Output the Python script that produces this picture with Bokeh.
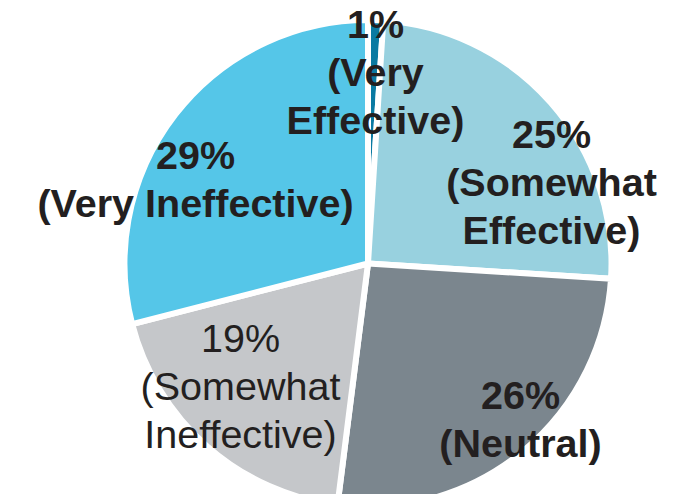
import math
from bokeh.plotting import figure
from bokeh.models import ColumnDataSource, Range1d
from bokeh.embed import file_html
from bokeh.resources import INLINE
from bokeh.core.properties import value

# ---- data ----
categories = ["Very Effective", "Somewhat Effective", "Neutral",
              "Somewhat Ineffective", "Very Ineffective"]
percents = [1, 25, 26, 19, 29]
colors = ["#0a7aa2", "#98d1df", "#7b868e", "#c5c7ca", "#55c6e8"]
label_lines = [["1%", "(Very", "Effective)"],
               ["25%", "(Somewhat", "Effective)"],
               ["26%", "(Neutral)"],
               ["19%", "(Somewhat", "Ineffective)"],
               ["29%", "(Very Ineffective)"]]
label_bold = [True, True, True, False, True]

# ---- layout (page pixel coordinates) ----
W, H = 699, 494
CENTER_PX = (367.5, 263.0)
RADIUS = 243.5
GAP = 6
LABEL_ANCHORS_PX = [(375, 39), (551, 149), (520, 410), (240, 353), (195, 170)]
BASELINE_SHIFT = -16
LINE_STEP = 48
FONT_SIZE = "39.5px"
TEXT_COLOR = "#231f20"


def to_data(px, py):
    return px, H - py


cx, cy = to_data(*CENTER_PX)

total = float(sum(percents))
starts, ends = [], []
cum = 0.0
for v in percents:
    a_from = math.pi / 2 - 2 * math.pi * (cum + v) / total
    a_to = math.pi / 2 - 2 * math.pi * cum / total
    starts.append(a_from)
    ends.append(a_to)
    cum += v

wedges = ColumnDataSource(dict(
    x=[cx] * len(percents), y=[cy] * len(percents),
    start=starts, end=ends, color=colors, name=categories, pct=percents))

p = figure(width=W, height=H, x_range=Range1d(0, W), y_range=Range1d(0, H),
           output_backend="svg", toolbar_location=None, min_border=0,
           x_axis_location=None, y_axis_location=None)
p.grid.visible = False
p.outline_line_color = None
p.background_fill_color = "white"
p.border_fill_color = "white"

p.wedge(x="x", y="y", radius=RADIUS, radius_units="screen",
        start_angle="start", end_angle="end", direction="anticlock",
        fill_color="color", line_color="white", line_width=GAP, source=wedges)

tx, ty, tt, tstyle = [], [], [], []
for lines, bold, (ax, ay) in zip(label_lines, label_bold, LABEL_ANCHORS_PX):
    for i, line in enumerate(lines):
        dx, dy = to_data(ax, ay + BASELINE_SHIFT + i * LINE_STEP)
        tx.append(dx)
        ty.append(dy)
        tt.append(line)
        tstyle.append("bold" if bold else "normal")

labels = ColumnDataSource(dict(x=tx, y=ty, text=tt, style=tstyle))
p.text(x="x", y="y", text="text", source=labels,
       text_font=value("Liberation Sans"), text_font_size=value(FONT_SIZE),
       text_font_style="style", text_color=TEXT_COLOR,
       text_align="center", text_baseline="alphabetic")

open("out.html", "w").write(file_html(p, INLINE))
